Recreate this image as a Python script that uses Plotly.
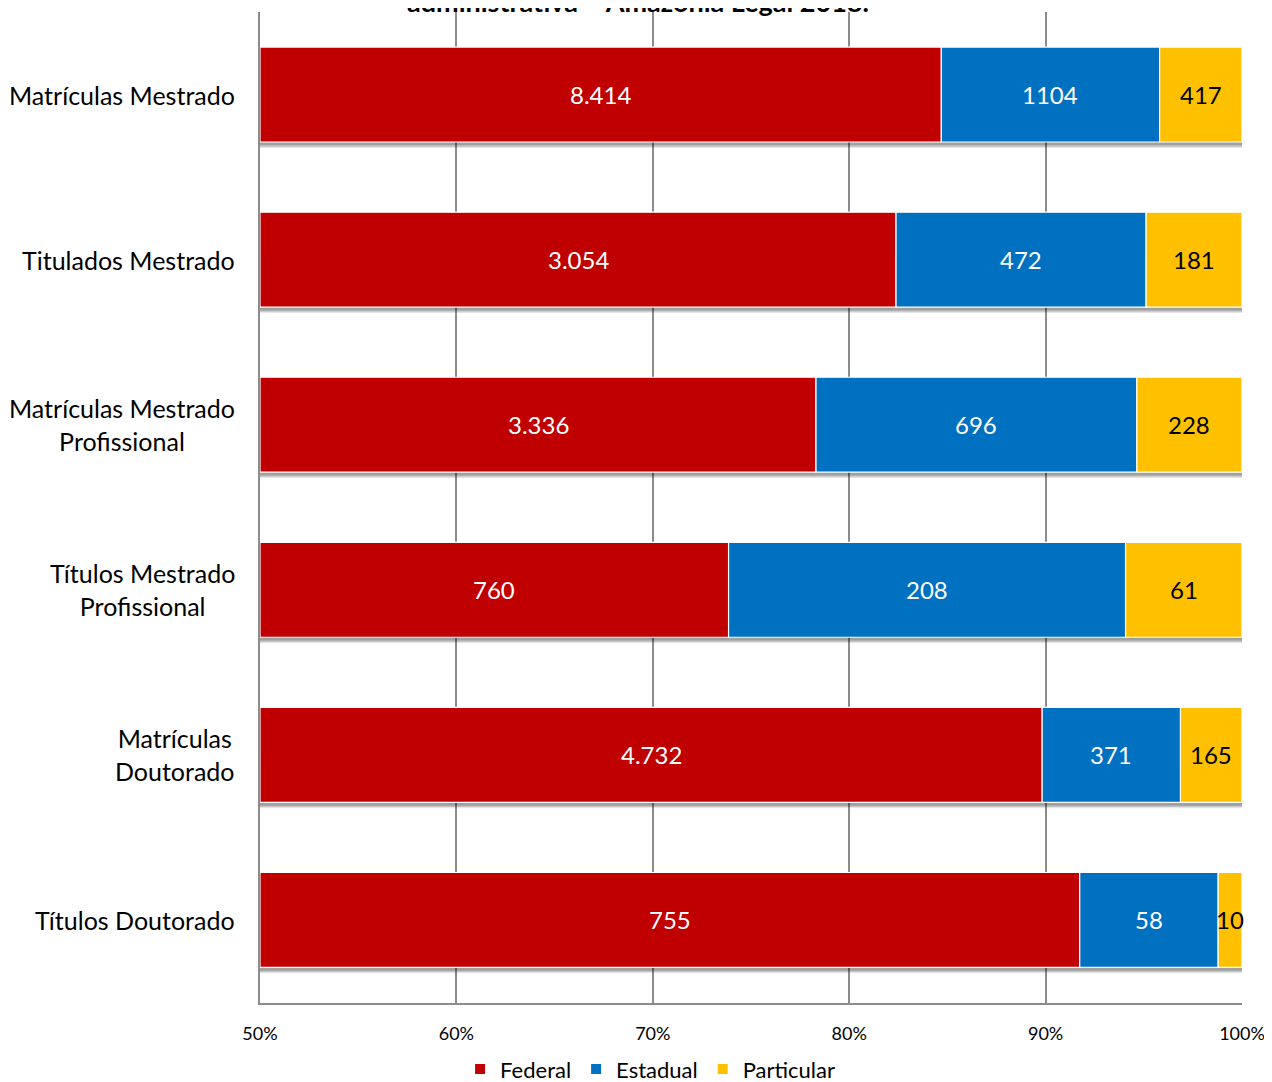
import plotly.graph_objects as go

categories = ["Matrículas Mestrado", "Titulados Mestrado", "Matrículas Mestrado<br>Profissional",
              "Títulos Mestrado<br>Profissional", "Matrículas<br>Doutorado", "Títulos Doutorado"]
federal = [8414, 3054, 3336, 760, 4732, 755]
estadual = [1104, 472, 696, 208, 371, 58]
particular = [417, 181, 228, 61, 165, 10]
federal_lbl = ["8.414", "3.054", "3.336", "760", "4.732", "755"]
estadual_lbl = ["1104", "472", "696", "208", "371", "58"]
particular_lbl = ["417", "181", "228", "61", "165", "10"]
tick_vals = [50, 60, 70, 80, 90, 100]
title_text = "administrativa – Amazônia Legal 2018."

totals = [f + e + p for f, e, p in zip(federal, estadual, particular)]
pf = [f / t * 100 for f, t in zip(federal, totals)]
pe = [e / t * 100 for e, t in zip(estadual, totals)]
pp = [p / t * 100 for p, t in zip(particular, totals)]

AXMIN = 50
FONT = "Lato"
BARW = 0.575
ycat = list(range(len(categories)))

fig = go.Figure()

# soft drop shadow under each stacked bar
for k, alpha in enumerate([0.10, 0.14, 0.18]):
    fig.add_trace(go.Bar(y=ycat, x=[100 - AXMIN] * len(ycat), base=AXMIN, orientation="h",
                         width=BARW, offset=-BARW / 2 + 0.036 - k * 0.008,
                         marker=dict(color=f"rgba(0,0,0,{alpha})", line=dict(width=0)),
                         showlegend=False, hoverinfo="skip"))

series = [
    ("Federal", "#C00000", [AXMIN] * len(pf), [v - AXMIN for v in pf], federal_lbl, "white"),
    ("Estadual", "#0070C0", pf, pe, estadual_lbl, "white"),
    ("Particular", "#FFC000", [a + b for a, b in zip(pf, pe)], pp, particular_lbl, "black"),
]
for name, color, base, width, lbl, tcolor in series:
    fig.add_trace(go.Bar(y=ycat, x=width, base=base, name=name, orientation="h",
                         width=BARW,
                         marker=dict(color=color, line=dict(color="white", width=1.2)),
                         hoverinfo="skip"))
for name, color, base, width, lbl, tcolor in series:
    for i, (b, w, t) in enumerate(zip(base, width, lbl)):
        fig.add_annotation(x=b + w / 2, y=i, xref="x", yref="y", text=t, showarrow=False,
                           yshift=0, font=dict(color=tcolor, size=24, family=FONT))

for i, c in enumerate(categories):
    fig.add_annotation(x=0, xref="paper", xanchor="right", xshift=-23, y=i, yref="y",
                       text=c, showarrow=False, align="center",
                       font=dict(family=FONT, size=25, color="black"))

fig.add_annotation(x=0.385, xref="paper", y=1.0, yref="paper", yanchor="bottom",
                   yshift=-8,
                   text="<b>" + title_text + "</b>", showarrow=False,
                   font=dict(family=FONT, size=27, color="black"))

fig.update_layout(
    barmode="overlay",
    width=1264, height=1074,
    margin=dict(l=252, r=30, t=4, b=74),
    plot_bgcolor="white", paper_bgcolor="white",
    font=dict(family=FONT, color="black"),
    legend=dict(orientation="h", xref="container", x=0.508, xanchor="center",
                yref="container", y=0.012, yanchor="middle",
                font=dict(size=22, family=FONT), tracegroupgap=0,
                itemsizing="constant"),
    showlegend=True,
)
fig.update_xaxes(range=[AXMIN, 100], tickvals=tick_vals, ticktext=[f"{v}%" for v in tick_vals],
                 showgrid=True, gridcolor="#8C8C8C", gridwidth=1.5,
                 showline=True, linecolor="#8C8C8C", linewidth=2, mirror=False,
                 ticks="", tickfont=dict(size=18, family=FONT), ticklabelstandoff=14,
                 zeroline=False)
fig.update_yaxes(range=[5.5, -0.5], showticklabels=False, showgrid=False,
                 showline=True, linecolor="#8C8C8C", linewidth=2, ticks="", zeroline=False)

fig.write_html("out.html")
